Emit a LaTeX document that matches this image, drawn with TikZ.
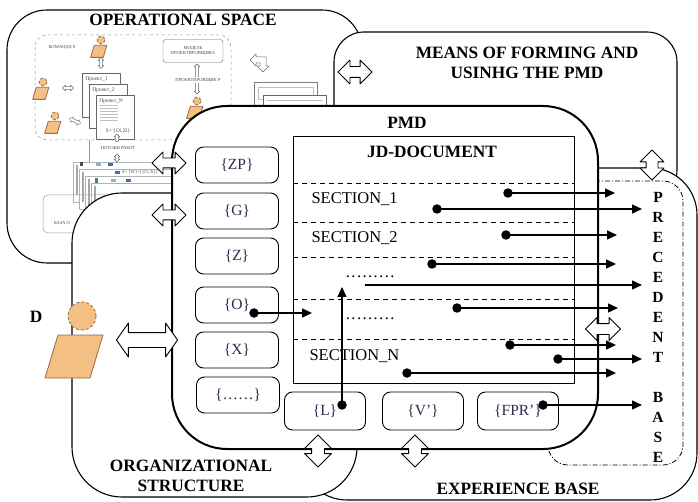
\documentclass[tikz,border=0pt]{standalone}
\usepackage{fontspec}
\setmainfont{Liberation Serif}
\usetikzlibrary{arrows.meta,shapes.arrows,positioning}

\definecolor{skin}{RGB}{243,191,130}
\definecolor{skinline}{RGB}{150,108,66}
\definecolor{setcol}{RGB}{45,45,80}
\definecolor{faint}{RGB}{150,150,150}
\definecolor{iconblue}{RGB}{60,110,190}
\definecolor{icongreen}{RGB}{70,140,80}
\definecolor{iconteal}{RGB}{120,190,190}

\newcommand\dotrun{\hbox to 50pt{\xleaders\hbox to 5.5pt{\hss.\hss}\hfill}}

\tikzset{
  frame/.style={draw, fill=white, line width=1.1pt},
  setbox/.style={draw, rounded corners=8pt, line width=0.9pt, minimum width=83pt, minimum height=36pt,
    text=setcol, font=\fontsize{15.5}{18}\selectfont},
  dblarrow/.style={double arrow, draw, fill=white, line width=0.9pt, inner xsep=0pt, inner ysep=4.5pt,
    minimum height=34pt, double arrow head extend=6pt},
  flow/.style={line width=1.4pt, -{Triangle[length=10pt,width=9pt]}},
  src/.style={circle, fill, inner sep=0pt, minimum size=9.5pt},
  title/.style={font=\fontsize{17.3}{20}\selectfont\bfseries, align=center},
  sect/.style={font=\fontsize{16.5}{19}\selectfont, anchor=west},
  tiny/.style={font=\fontsize{4.6}{5.2}\selectfont, text=black!70, inner sep=0pt, align=center},
  minidbl/.style={double arrow, draw=black!60, fill=white, line width=0.4pt, inner xsep=0pt, inner ysep=1.2pt,
    double arrow head extend=1.5pt},
  man/.pic={
    \draw[skinline, fill=skin, line width=0.8pt, densely dashed] (0,0) circle (14);
    \draw[skinline, fill=skin, line width=0.8pt] (-24,19) -- (21,19) -- (8,62) -- (-37,62) -- cycle;
  }
}

\begin{document}
\begin{tikzpicture}[x=1pt, y=-1pt, line join=round, >=Stealth]
\useasboundingbox (0,0) rectangle (698,502);

% operational space with its small sketch
\draw[frame, rounded corners=40pt] (7,10) rectangle (362,263);
\node[title] (opsT) at (183,20) {OPERATIONAL SPACE};

\draw[faint, dashed, line width=0.5pt, rounded corners=12pt] (35,35) rectangle (231,140);
\node[tiny] (team) at (62,47) {КОМАНДА 0};
\pic (p1) [scale=0.28] at (101,40) {man};
\pic (p2) [scale=0.28] at (43,82) {man};
\pic (p3) [scale=0.28] at (55,116) {man};
\pic (p4) [scale=0.28] at (197,101) {man};
\node[minidbl, rotate=90, minimum height=11pt] (m1) at (101,63) {};
\node[minidbl, minimum height=11pt] (m2) at (68,88) {};
\node[minidbl, rotate=-25, minimum height=12pt] (m3) at (75,121) {};
\foreach \k/\lbl in {0/1, 1/2, 2/N}
  \draw[black!60, fill=white, line width=0.5pt] (82+7*\k,73+11*\k) rectangle +(38,44)
    node[tiny, anchor=north west] (sheet\k) at (85+7*\k,77+11*\k) {\fontsize{5.5}{6}\selectfont Проект\_\lbl};
\foreach \r in {0,...,5}
  \draw[black!25, line width=1pt] (100,106+3*\r) -- (118,106+3*\r);
\node[tiny] (sset) at (118,131) {\fontsize{5.5}{6}\selectfont S= \{Oi,Zi\}};
\node[draw=black!60, rounded corners=3pt, minimum width=60pt, minimum height=23pt, tiny] (model) at (193,51)
  {МОДЕЛЬ\\ПРОЕКТИРОВЩИКА};
\node[minidbl, rotate=90, minimum height=30pt] (m4) at (197,79) {};
\node[tiny, fill=white, inner sep=0.6pt] (designer) at (198,80) {ПРОЕКТИРОВЩИК P};
\draw[black!60, line width=0.5pt, fill=white] (250,60) -- (256,54) -- (256,57) -- (266,57) -- (266,66)
  -- (269,66) -- (263,72) -- (257,66) -- (260,66) -- (260,63) -- (256,63) -- (256,66) -- cycle;
\draw[black!50, fill=white, line width=0.5pt] (254,82) rectangle (317,140);
\draw[black!25, line width=0.4pt] (258,87) rectangle (313,99);
\draw[black!60, fill=white, line width=0.5pt] (263,95) rectangle (326,140);
\draw[black!25, line width=0.4pt] (267,100) -- (322,100);
\draw[faint, line width=0.5pt] (89,140) -- (89,164);
\node[minidbl, rotate=90, minimum height=8pt] (m5) at (117,138) {};
\node[tiny] (works) at (118,148) {ПОТОКИ РАБОТ};
\node[minidbl, rotate=90, minimum height=8pt] (m6) at (117,158) {};
\foreach \k in {0,...,3}
  \draw[black!30, fill=white, line width=0.4pt] (73+6*\k,162+7*\k) rectangle +(97,40);
\foreach \k in {0,...,3}
  \fill[black!35] (76+6*\k,165+7*\k) rectangle +(2,30);
\fill[black!70] (80,162) rectangle +(3,4);
\fill[iconteal] (96,163) rectangle +(5,3);
\fill[iconblue] (108,163) rectangle +(5,3);
\fill[iconblue] (115,171) rectangle +(5,3);
\node[tiny, anchor=west] (wset) at (122,172) {S= \{W\}=\{\{Ci,Ti\}\}};
\fill[icongreen] (95,178) rectangle +(3,5);
\fill[iconteal] (111,179) rectangle +(5,3);
\fill[iconblue] (126,179) rectangle +(5,3);
\draw[black!40, rounded corners=5pt, line width=0.5pt] (43,195) rectangle (110,233);
\node[tiny] (base) at (62,223) {БАЗА О};

% means of forming and using
\draw[frame, rounded corners=30pt] (334,32) rectangle (677,200);
\node[title] (meansT) at (527,63) {MEANS OF FORMING AND\\USINHG THE PMD};

% experience base and precedent base
\draw[frame, rounded corners=47pt] (300,168) rectangle (697,500);
\node[title] (expT) at (518,489) {EXPERIENCE BASE};
\draw[fill=white, line width=0.8pt, dash pattern=on 5pt off 2pt on 1pt off 2pt, rounded corners=20pt]
  (548,181) rectangle (683,465);
\foreach \ch [count=\i] in {P,R,E,C,E,D,E,N,T,{},B,A,S,E}
  \node[font=\fontsize{15.5}{18}\selectfont\bfseries] (pb\i) at (658,177+20*\i) {\ch};

% organizational structure
\draw[frame, rounded corners=50pt] (72,193) rectangle (357,497);
\node[title] (orgT) at (191,476) {ORGANIZATIONAL\\STRUCTURE};

% PMD
\draw[fill=white, line width=2pt, rounded corners=55pt] (172,106) rectangle (598,449);
\node[title] (pmdT) at (407,123) {PMD};
\draw[line width=0.8pt] (293,136) rectangle (574,383);
\node[title] (jdT) at (432,152) {JD-DOCUMENT};
\foreach \yy in {183,222,257,299,339}
  \draw[line width=0.8pt, dash pattern=on 5pt off 4pt] (293,\yy) -- (574,\yy);
\node[sect] (sec1) at (308,199) {SECTION\_1};
\node[sect] (sec2) at (308,238) {SECTION\_2};
\node[sect, inner sep=0pt] (gap1) at (345,277) {\dotrun};
\node[sect, inner sep=0pt] (gap2) at (345,319) {\dotrun};
\node[sect] (secN) at (306,356) {SECTION\_N};

\node[setbox] (bZP) at (237,165) {\{ZP\}};
\node[setbox] (bG) at (237,211) {\{G\}};
\node[setbox] (bZ) at (237,256) {\{Z\}};
\node[setbox] (bO) at (237,305) {\{O\}};
\node[setbox] (bX) at (237,350) {\{X\}};
\node[setbox] (bEtc) at (238,395) {\{\ldots\ldots\}};
\node[setbox, minimum width=81pt, minimum height=38pt] (bL) at (325,411) {\{L\}};
\node[setbox, minimum width=81pt, minimum height=38pt] (bV) at (423,411) {\{V’\}};
\node[setbox, minimum width=81pt, minimum height=38pt] (bFPR) at (518,411) {\{FPR’\}};

% exchange arrows
\node[dblarrow] (aZP) at (169,163) {};
\node[dblarrow] (aG) at (169,215) {};
\node[dblarrow, inner ysep=5pt, double arrow head extend=6.5pt] (aMeans) at (355,72) {};
\node[dblarrow, minimum height=61pt, inner ysep=7pt, double arrow head extend=9.5pt,
  double arrow tip angle=110] (aD) at (147,340) {};
\node[dblarrow, minimum height=35pt, inner ysep=5pt] (aPrec) at (603,329) {};
\node[dblarrow, rotate=90, minimum height=30pt, inner ysep=5.5pt] (aExp) at (652,165) {};
\node[dblarrow, rotate=90, minimum height=32pt, inner ysep=6pt, double arrow head extend=7pt] (aL) at (318,451) {};
\node[dblarrow, rotate=90, minimum height=32pt, inner ysep=6pt, double arrow head extend=7pt] (aV) at (415,451) {};

% links from the sections and sets
\foreach \n/\xa/\xb/\yy in {1/508/615/193, 2/437/642/209, 3/506/617/235, 4/432/616/264,
    6/457/618/308, 7/510/616/345, 8/558/642/359, 9/407/616/373, 10/543/642/405, 11/254/312/313} {
  \node[src] (s\n) at (\xa,\yy) {};
  \coordinate (t\n) at (\xb,\yy);
  \draw[flow] (s\n.center) -- (t\n);
}
\coordinate (s5) at (365,285);
\coordinate (t5) at (642,285);
\draw[flow] (s5) -- (t5);
\node[src] (sL) at (342,405) {};
\coordinate (tL) at (342,287);
\draw[flow, line width=1.1pt] (sL.center) -- (tL);

% decision maker
\pic (dm) at (82,316) {man};
\node[font=\fontsize{17.3}{20}\selectfont\bfseries] (dmT) at (36,317) {D};
\end{tikzpicture}
\end{document}
